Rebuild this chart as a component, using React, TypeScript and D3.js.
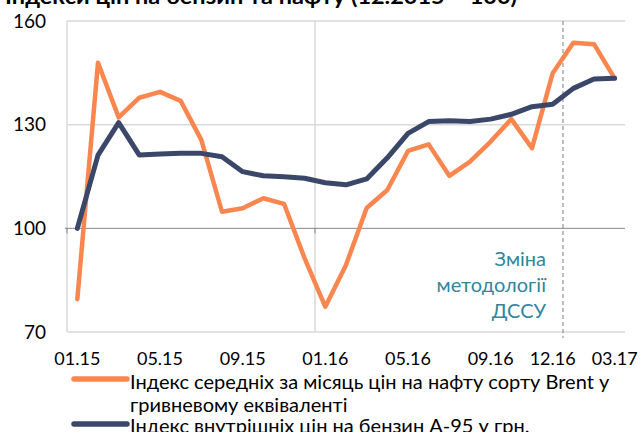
import React from "react";
import * as d3 from "d3";

const months = [
  "01.15","02.15","03.15","04.15","05.15","06.15","07.15","08.15","09.15","10.15","11.15","12.15",
  "01.16","02.16","03.16","04.16","05.16","06.16","07.16","08.16","09.16","10.16","11.16","12.16",
  "01.17","02.17","03.17",
];
const brent = [
  79.5, 147.9, 132.1, 137.8, 139.5, 136.9, 125.6, 104.8, 105.8, 108.7, 107.1, 91.3,
  77.3, 89.4, 105.9, 111.1, 122.4, 124.3, 115.2, 119.3, 125.1, 131.6, 123.2, 144.9,
  153.7, 153.3, 143.4,
];
const gasoline = [
  100.0, 121.2, 130.6, 121.2, 121.5, 121.7, 121.7, 120.7, 116.4, 115.2, 114.9, 114.5,
  113.2, 112.6, 114.3, 120.4, 127.5, 130.9, 131.1, 130.9, 131.6, 133.0, 135.2, 135.9,
  140.5, 143.2, 143.4,
];
const tickLabels = ["01.15","05.15","09.15","01.16","05.16","09.16","12.16","03.17"];
const yTicks = [70, 100, 130, 160];
const seriesNames = [
  ["Індекс середніх за місяць цін на нафту сорту Brent у", "гривневому еквіваленті"],
  ["Індекс внутрішніх цін на бензин А-95 у грн."],
];
const title = "Індекси цін на бензин та нафту (12.2015 = 100)";
const noteLines = ["Зміна", "методології", "ДССУ"];

const W = 641, H = 432;
const L = 67, R = 625, T = 21, B = 332;
const FONT = "Lato, 'Open Sans', sans-serif";
const ORANGE = "#f9864f";
const NAVY = "#3b4769";

export default function App() {
  const x = d3.scalePoint<string>().domain(months).range([L, R]).padding(0.5);
  const band = d3.scaleBand<string>().domain(months).range([L, R]);
  const y = d3.scaleLinear().domain([70, 160]).range([B, T]);
  const line = (vals: number[]) =>
    d3.line<number>().x((_, i) => x(months[i]) as number).y((d) => y(d))(vals) || "";

  const vGrid = [months[0], months[12]].map((m) => band(m) as number);
  const dashX = band(months[24]) as number;

  return (
    <svg width={W} height={H} style={{ position: "absolute", left: 0, top: 0, background: "#fff" }}
      fontFamily={FONT}>
      <text x={5} y={3.5} fontSize={20} fontWeight="bold" fill="#000" textLength={512}
        lengthAdjust="spacingAndGlyphs">{title}</text>
      {/* horizontal grid */}
      {yTicks.filter((t) => t !== 100).map((t) => (
        <line key={t} x1={L} x2={R} y1={y(t)} y2={y(t)} stroke="#d9d9d9" strokeWidth={1.5} />
      ))}
      {vGrid.map((vx, i) => (
        <line key={i} x1={vx} x2={vx} y1={T} y2={B} stroke="#d9d9d9" strokeWidth={1.5} />
      ))}
      <line x1={dashX} x2={dashX} y1={T} y2={B + 6} stroke="#7f7f7f" strokeWidth={1} strokeDasharray="4,3" />
      {/* axis at 100 */}
      <line x1={L - 2} x2={R} y1={y(100)} y2={y(100)} stroke="#868686" strokeWidth={1} />
      {vGrid.map((vx, i) => (
        <line key={"t" + i} x1={vx} x2={vx} y1={y(100)} y2={y(100) + 5} stroke="#868686" strokeWidth={1} />
      ))}
      {/* y labels */}
      {yTicks.map((t) => (
        <text key={t} x={46} y={y(t)} dy="0.35em" textAnchor="end" fontSize={19} fill="#000">{t}</text>
      ))}
      {/* x labels */}
      {tickLabels.map((m) => (
        <text key={m} x={x(m) as number} y={359} dy="0.35em" textAnchor="middle" fontSize={18} fill="#000">{m}</text>
      ))}
      {/* note */}
      {noteLines.map((s, i) => (
        <text key={s} x={546} y={259 + i * 26} dy="0.35em" textAnchor="end" fontSize={20} fill="#31859c">{s}</text>
      ))}
      {/* series */}
      <path d={line(brent)} fill="none" stroke={ORANGE} strokeWidth={4.5} strokeLinejoin="round" strokeLinecap="round" />
      <path d={line(gasoline)} fill="none" stroke={NAVY} strokeWidth={5} strokeLinejoin="round" strokeLinecap="round" />
      {/* legend */}
      <line x1={74} x2={127} y1={379} y2={379} stroke={ORANGE} strokeWidth={5.5} strokeLinecap="round" />
      {seriesNames[0].map((s, i) => (
        <text key={s} x={130} y={381.5 + i * 23} dy="0.35em" fontSize={20} fill="#000">{s}</text>
      ))}
      <line x1={74} x2={127} y1={424} y2={424} stroke={NAVY} strokeWidth={5.5} strokeLinecap="round" />
      <text x={130} y={426} dy="0.35em" fontSize={20} fill="#000">{seriesNames[1][0]}</text>
    </svg>
  );
}
